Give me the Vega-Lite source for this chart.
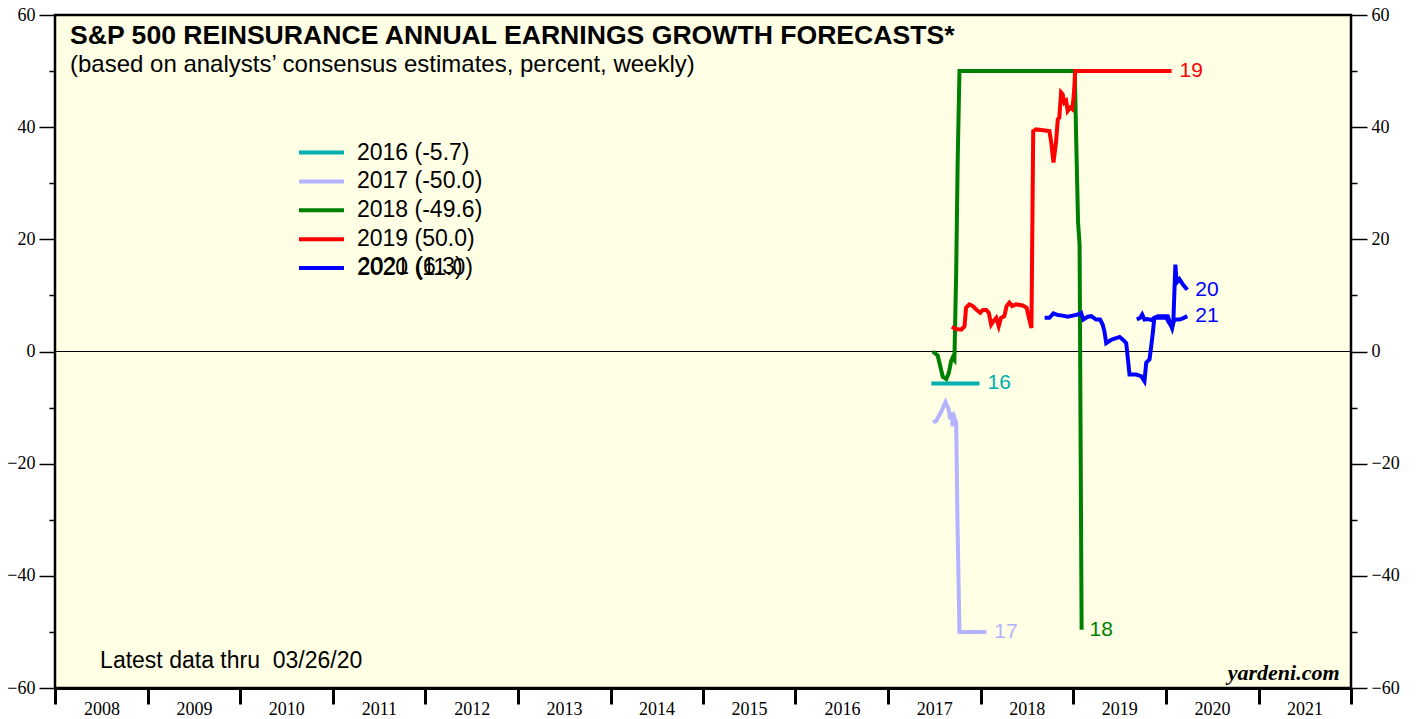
{
  "$schema": "https://vega.github.io/schema/vega-lite/v6.json",
  "autosize": "none",
  "width": 1296,
  "height": 673,
  "padding": {"left": 55, "top": 15, "right": 66, "bottom": 31},
  "background": "white",
  "config": {
    "view": {"fill": "#FFFFE6", "stroke": "black", "strokeWidth": 2.5},
    "font": "Liberation Sans"
  },
  "title": {
    "text": "S&P 500 REINSURANCE ANNUAL EARNINGS GROWTH FORECASTS*",
    "subtitle": "(based on analysts’ consensus estimates, percent, weekly)",
    "anchor": "start",
    "frame": "group",
    "orient": "top",
    "offset": -71,
    "dx": 15,
    "font": "Liberation Sans",
    "fontSize": 26.6,
    "fontWeight": "bold",
    "color": "black",
    "subtitleFont": "Liberation Sans",
    "subtitleFontSize": 24,
    "subtitleColor": "black",
    "subtitlePadding": 3
  },
  "data": {"values": [
    {"series": "2016", "date": "2017-06-20", "value": -5.7},
    {"series": "2016", "date": "2017-12-27", "value": -5.7},

    {"series": "2017", "date": "2017-06-26", "value": -12.6},
    {"series": "2017", "date": "2017-07-09", "value": -12.4},
    {"series": "2017", "date": "2017-07-29", "value": -10.7},
    {"series": "2017", "date": "2017-08-15", "value": -9.0},
    {"series": "2017", "date": "2017-08-28", "value": -10.4},
    {"series": "2017", "date": "2017-09-02", "value": -12.1},
    {"series": "2017", "date": "2017-09-09", "value": -10.9},
    {"series": "2017", "date": "2017-09-12", "value": -13.3},
    {"series": "2017", "date": "2017-09-19", "value": -11.8},
    {"series": "2017", "date": "2017-09-26", "value": -12.7},
    {"series": "2017", "date": "2017-10-01", "value": -30.0},
    {"series": "2017", "date": "2017-10-09", "value": -50.0},
    {"series": "2017", "date": "2018-01-23", "value": -50.0},

    {"series": "2018", "date": "2017-06-26", "value": 0.0},
    {"series": "2018", "date": "2017-07-15", "value": -0.7},
    {"series": "2018", "date": "2017-07-25", "value": -2.6},
    {"series": "2018", "date": "2017-08-04", "value": -4.5},
    {"series": "2018", "date": "2017-08-18", "value": -4.9},
    {"series": "2018", "date": "2017-08-28", "value": -3.8},
    {"series": "2018", "date": "2017-09-06", "value": -1.7},
    {"series": "2018", "date": "2017-09-12", "value": -1.1},
    {"series": "2018", "date": "2017-09-19", "value": -1.5},
    {"series": "2018", "date": "2017-09-26", "value": 14.0},
    {"series": "2018", "date": "2017-10-02", "value": 34.0},
    {"series": "2018", "date": "2017-10-09", "value": 50.0},
    {"series": "2018", "date": "2019-01-07", "value": 50.0},
    {"series": "2018", "date": "2019-01-14", "value": 35.0},
    {"series": "2018", "date": "2019-01-20", "value": 23.0},
    {"series": "2018", "date": "2019-01-26", "value": 19.0},
    {"series": "2018", "date": "2019-02-03", "value": -49.6},

    {"series": "2019", "date": "2017-09-09", "value": 4.4},
    {"series": "2019", "date": "2017-09-26", "value": 4.0},
    {"series": "2019", "date": "2017-10-16", "value": 3.9},
    {"series": "2019", "date": "2017-10-29", "value": 4.5},
    {"series": "2019", "date": "2017-11-04", "value": 7.8},
    {"series": "2019", "date": "2017-11-17", "value": 8.4},
    {"series": "2019", "date": "2017-12-01", "value": 8.1},
    {"series": "2019", "date": "2017-12-14", "value": 7.5},
    {"series": "2019", "date": "2017-12-30", "value": 6.9},
    {"series": "2019", "date": "2018-01-09", "value": 7.4},
    {"series": "2019", "date": "2018-01-23", "value": 7.4},
    {"series": "2019", "date": "2018-02-02", "value": 6.9},
    {"series": "2019", "date": "2018-02-11", "value": 4.8},
    {"series": "2019", "date": "2018-02-20", "value": 5.4},
    {"series": "2019", "date": "2018-03-03", "value": 6.0},
    {"series": "2019", "date": "2018-03-13", "value": 4.5},
    {"series": "2019", "date": "2018-03-22", "value": 6.0},
    {"series": "2019", "date": "2018-04-04", "value": 6.3},
    {"series": "2019", "date": "2018-04-13", "value": 8.1},
    {"series": "2019", "date": "2018-04-24", "value": 8.7},
    {"series": "2019", "date": "2018-05-05", "value": 8.1},
    {"series": "2019", "date": "2018-05-20", "value": 8.4},
    {"series": "2019", "date": "2018-06-16", "value": 8.2},
    {"series": "2019", "date": "2018-07-01", "value": 7.8},
    {"series": "2019", "date": "2018-07-10", "value": 6.0},
    {"series": "2019", "date": "2018-07-20", "value": 4.2},
    {"series": "2019", "date": "2018-07-27", "value": 39.3},
    {"series": "2019", "date": "2018-08-07", "value": 39.6},
    {"series": "2019", "date": "2018-09-29", "value": 39.3},
    {"series": "2019", "date": "2018-10-06", "value": 37.3},
    {"series": "2019", "date": "2018-10-15", "value": 33.7},
    {"series": "2019", "date": "2018-10-25", "value": 37.3},
    {"series": "2019", "date": "2018-11-01", "value": 41.4},
    {"series": "2019", "date": "2018-11-07", "value": 41.7},
    {"series": "2019", "date": "2018-11-14", "value": 46.2},
    {"series": "2019", "date": "2018-11-20", "value": 45.9},
    {"series": "2019", "date": "2018-11-27", "value": 44.4},
    {"series": "2019", "date": "2018-12-04", "value": 44.7},
    {"series": "2019", "date": "2018-12-10", "value": 42.9},
    {"series": "2019", "date": "2018-12-20", "value": 43.5},
    {"series": "2019", "date": "2018-12-28", "value": 43.2},
    {"series": "2019", "date": "2019-01-03", "value": 45.6},
    {"series": "2019", "date": "2019-01-09", "value": 50.0},
    {"series": "2019", "date": "2020-01-24", "value": 50.0},

    {"series": "2020", "date": "2018-09-10", "value": 6.0},
    {"series": "2020", "date": "2018-09-29", "value": 6.0},
    {"series": "2020", "date": "2018-10-15", "value": 6.8},
    {"series": "2020", "date": "2018-11-01", "value": 6.5},
    {"series": "2020", "date": "2018-11-20", "value": 6.4},
    {"series": "2020", "date": "2018-12-10", "value": 6.2},
    {"series": "2020", "date": "2018-12-30", "value": 6.4},
    {"series": "2020", "date": "2019-01-19", "value": 6.6},
    {"series": "2020", "date": "2019-02-01", "value": 6.9},
    {"series": "2020", "date": "2019-02-10", "value": 5.7},
    {"series": "2020", "date": "2019-02-27", "value": 6.2},
    {"series": "2020", "date": "2019-03-13", "value": 6.3},
    {"series": "2020", "date": "2019-04-01", "value": 5.7},
    {"series": "2020", "date": "2019-04-17", "value": 5.7},
    {"series": "2020", "date": "2019-04-27", "value": 4.8},
    {"series": "2020", "date": "2019-05-04", "value": 3.6},
    {"series": "2020", "date": "2019-05-11", "value": 1.5},
    {"series": "2020", "date": "2019-05-31", "value": 2.1},
    {"series": "2020", "date": "2019-06-13", "value": 2.3},
    {"series": "2020", "date": "2019-07-03", "value": 2.6},
    {"series": "2020", "date": "2019-07-16", "value": 2.1},
    {"series": "2020", "date": "2019-07-29", "value": 1.5},
    {"series": "2020", "date": "2019-08-11", "value": -4.1},
    {"series": "2020", "date": "2019-09-06", "value": -4.1},
    {"series": "2020", "date": "2019-09-26", "value": -4.4},
    {"series": "2020", "date": "2019-10-09", "value": -5.3},
    {"series": "2020", "date": "2019-10-16", "value": -2.0},
    {"series": "2020", "date": "2019-10-29", "value": -1.4},
    {"series": "2020", "date": "2019-11-04", "value": 0.7},
    {"series": "2020", "date": "2019-11-11", "value": 3.3},
    {"series": "2020", "date": "2019-11-17", "value": 6.0},
    {"series": "2020", "date": "2019-12-01", "value": 6.3},
    {"series": "2020", "date": "2020-01-09", "value": 6.3},
    {"series": "2020", "date": "2020-01-16", "value": 5.4},
    {"series": "2020", "date": "2020-01-26", "value": 4.2},
    {"series": "2020", "date": "2020-01-31", "value": 5.4},
    {"series": "2020", "date": "2020-02-08", "value": 15.5},
    {"series": "2020", "date": "2020-02-13", "value": 12.3},
    {"series": "2020", "date": "2020-02-24", "value": 12.9},
    {"series": "2020", "date": "2020-03-08", "value": 12.0},
    {"series": "2020", "date": "2020-03-26", "value": 11.0},

    {"series": "2021", "date": "2019-09-09", "value": 5.7},
    {"series": "2021", "date": "2019-09-22", "value": 6.0},
    {"series": "2021", "date": "2019-09-30", "value": 6.6},
    {"series": "2021", "date": "2019-10-09", "value": 5.7},
    {"series": "2021", "date": "2019-10-22", "value": 5.8},
    {"series": "2021", "date": "2019-11-04", "value": 5.6},
    {"series": "2021", "date": "2019-11-17", "value": 6.0},
    {"series": "2021", "date": "2019-12-07", "value": 6.0},
    {"series": "2021", "date": "2020-01-03", "value": 6.0},
    {"series": "2021", "date": "2020-01-16", "value": 5.0},
    {"series": "2021", "date": "2020-01-26", "value": 4.3},
    {"series": "2021", "date": "2020-02-04", "value": 5.7},
    {"series": "2021", "date": "2020-02-24", "value": 5.7},
    {"series": "2021", "date": "2020-03-08", "value": 5.9},
    {"series": "2021", "date": "2020-03-26", "value": 6.3}
  ]},
  "resolve": {"axis": {"x": "independent", "y": "independent"}},
  "layer": [
    {
      "mark": {"type": "rule", "color": "black", "strokeWidth": 1},
      "encoding": {
        "y": {"datum": 0, "type": "quantitative", "scale": {"domain": [-60, 60], "nice": false}, "axis": null}
      }
    },
    {
      "mark": {"type": "line", "strokeWidth": 4, "interpolate": "linear"},
      "encoding": {
        "x": {
          "field": "date", "type": "temporal",
          "scale": {"domain": [{"year": 2008, "month": 1, "date": 1}, {"year": 2022, "month": 1, "date": 1}]},
          "axis": {
            "orient": "bottom",
            "values": [
              {"year": 2008, "month": 1, "date": 1}, {"year": 2009, "month": 1, "date": 1},
              {"year": 2010, "month": 1, "date": 1}, {"year": 2011, "month": 1, "date": 1},
              {"year": 2012, "month": 1, "date": 1}, {"year": 2013, "month": 1, "date": 1},
              {"year": 2014, "month": 1, "date": 1}, {"year": 2015, "month": 1, "date": 1},
              {"year": 2016, "month": 1, "date": 1}, {"year": 2017, "month": 1, "date": 1},
              {"year": 2018, "month": 1, "date": 1}, {"year": 2019, "month": 1, "date": 1},
              {"year": 2020, "month": 1, "date": 1}, {"year": 2021, "month": 1, "date": 1},
              {"year": 2022, "month": 1, "date": 1}
            ],
            "labels": false, "tickSize": 16, "tickWidth": 3, "tickColor": "black",
            "domain": true, "domainWidth": 3, "domainColor": "black", "grid": false, "title": null
          }
        },
        "y": {
          "field": "value", "type": "quantitative",
          "scale": {"domain": [-60, 60], "nice": false},
          "axis": {
            "orient": "left", "values": [-60, -40, -20, 0, 20, 40, 60],
            "tickSize": 16, "tickWidth": 1.5, "tickColor": "black",
            "labelFont": "Liberation Serif", "labelFontSize": 18, "labelColor": "black", "labelPadding": 4,
            "domain": false, "grid": false, "title": null
          }
        },
        "color": {
          "field": "series", "type": "nominal",
          "scale": {
            "domain": ["2016", "2017", "2018", "2019", "2020", "2021"],
            "range": ["#00AFAF", "#B3B3FF", "#008000", "#FF0000", "#0000FF", "#0000FF"]
          },
          "legend": {
            "values": ["2016", "2017", "2018", "2019", "2020"],
            "orient": "none", "legendX": 255, "legendY": 126, "padding": 0,
            "title": null, "symbolType": "M-3,0H3", "symbolSize": 225, "symbolStrokeWidth": 4,
            "labelFont": "Liberation Sans", "labelFontSize": 23, "labelColor": "black",
            "labelOffset": 24, "rowPadding": 4.9,
            "labelExpr": "datum.label == '2016' ? '2016 (-5.7)' : datum.label == '2017' ? '2017 (-50.0)' : datum.label == '2018' ? '2018 (-49.6)' : datum.label == '2019' ? '2019 (50.0)' : '2020 (11.0)'"
          }
        }
      }
    },
    {
      "transform": [
        {"aggregate": [{"op": "argmax", "field": "date", "as": "last"}], "groupby": ["series"]},
        {"calculate": "slice(datum.series, 2)", "as": "label"}
      ],
      "mark": {"type": "text", "align": "left", "baseline": "middle", "dx": 8, "fontSize": 21, "font": "Liberation Sans"},
      "encoding": {
        "x": {
          "field": "last.date", "type": "temporal",
          "axis": {
            "orient": "bottom",
            "values": [
              {"year": 2008, "month": 7, "date": 2}, {"year": 2009, "month": 7, "date": 2},
              {"year": 2010, "month": 7, "date": 2}, {"year": 2011, "month": 7, "date": 2},
              {"year": 2012, "month": 7, "date": 2}, {"year": 2013, "month": 7, "date": 2},
              {"year": 2014, "month": 7, "date": 2}, {"year": 2015, "month": 7, "date": 2},
              {"year": 2016, "month": 7, "date": 2}, {"year": 2017, "month": 7, "date": 2},
              {"year": 2018, "month": 7, "date": 2}, {"year": 2019, "month": 7, "date": 2},
              {"year": 2020, "month": 7, "date": 2}, {"year": 2021, "month": 7, "date": 2}
            ],
            "format": "%Y", "ticks": false, "tickSize": 0, "labelPadding": 12,
            "labelFont": "Liberation Serif", "labelFontSize": 18, "labelColor": "black",
            "domain": false, "grid": false, "title": null
          }
        },
        "y": {
          "field": "last.value", "type": "quantitative",
          "axis": {
            "orient": "right", "values": [-60, -40, -20, 0, 20, 40, 60],
            "tickSize": 16, "tickWidth": 1.5, "tickColor": "black",
            "labelFont": "Liberation Serif", "labelFontSize": 18, "labelColor": "black", "labelPadding": 4,
            "domain": false, "grid": false, "title": null
          }
        },
        "text": {"field": "label"},
        "color": {"field": "series", "type": "nominal", "legend": null}
      }
    },
    {
      "data": {"values": [{}]},
      "mark": {"type": "text", "align": "left", "baseline": "middle", "fontSize": 23, "font": "Liberation Sans", "color": "black"},
      "encoding": {
        "x": {"datum": {"year": 2008, "month": 6, "date": 27}, "type": "temporal", "axis": null},
        "y": {
          "datum": -55.2, "type": "quantitative",
          "axis": {
            "orient": "left", "values": [-50, -30, -10, 10, 30, 50],
            "tickSize": 6, "tickWidth": 1.5, "tickColor": "black", "labels": false,
            "domain": false, "grid": false, "title": null
          }
        },
        "text": {"value": "Latest data thru\u00a0\u00a003/26/20"}
      }
    },
    {
      "data": {"values": [{}]},
      "mark": {"type": "text", "align": "right", "baseline": "middle", "fontSize": 22, "font": "Liberation Serif", "fontWeight": "bold", "fontStyle": "italic", "color": "black"},
      "encoding": {
        "x": {"datum": {"year": 2021, "month": 11, "date": 17}, "type": "temporal", "axis": null},
        "y": {
          "datum": -57.3, "type": "quantitative",
          "axis": {
            "orient": "right", "values": [-50, -30, -10, 10, 30, 50],
            "tickSize": 6, "tickWidth": 1.5, "tickColor": "black", "labels": false,
            "domain": false, "grid": false, "title": null
          }
        },
        "text": {"value": "yardeni.com"}
      }
    },
    {
      "data": {"values": [{}]},
      "mark": {"type": "text", "align": "left", "baseline": "middle", "fontSize": 23, "font": "Liberation Sans", "color": "black"},
      "encoding": {
        "x": {"datum": {"year": 2011, "month": 4, "date": 10}, "type": "temporal", "axis": null},
        "y": {"datum": 15.0, "type": "quantitative", "axis": null},
        "text": {"value": "2021 (6.3)"}
      }
    }
  ]
}
